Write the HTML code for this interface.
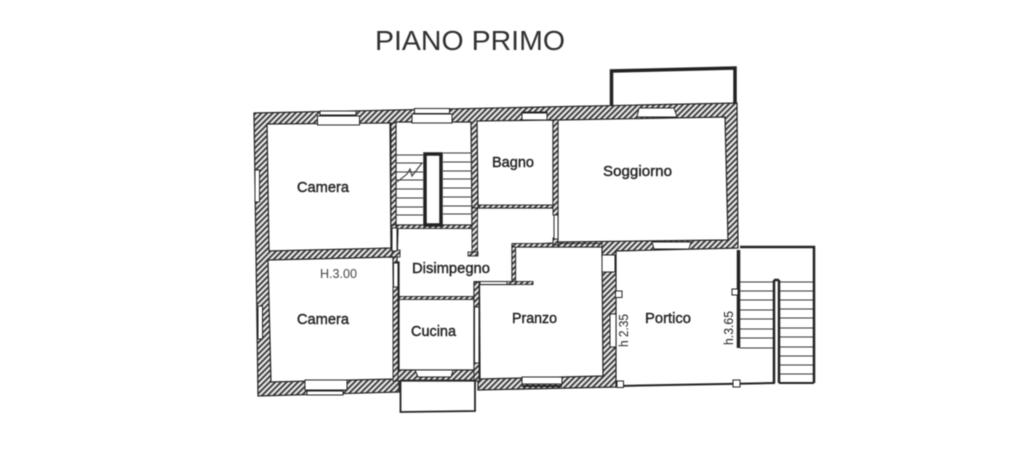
<!DOCTYPE html>
<html>
<head>
<meta charset="utf-8">
<style>
html,body{margin:0;padding:0;background:#fff;width:1014px;height:470px;overflow:hidden}
svg{display:block;filter:blur(0.4px)}
text{font-family:"Liberation Sans",sans-serif;fill:#222}
.l{font-size:14.5px;stroke:#222;stroke-width:.4px}
.t{stroke:#333;stroke-width:1;fill:none}
.k{stroke:#222;fill:none}
.w{fill:#fff;stroke:#222;stroke-width:1}
</style>
</head>
<body>
<svg width="1014" height="470" viewBox="0 0 1014 470" xmlns="http://www.w3.org/2000/svg">
<defs>
<pattern id="h" width="4" height="4" patternUnits="userSpaceOnUse" patternTransform="rotate(45)">
<rect width="4" height="4" fill="#ececec"/>
<rect width="1.800" height="4" fill="#333"/>
</pattern>
</defs>
<rect width="1014" height="470" fill="#fff"/>

<text x="375" y="50" font-size="27.500" textLength="190" lengthAdjust="spacingAndGlyphs" style="fill:#303030">PIANO PRIMO</text>

<!-- balcony top -->
<path d="M611.500 105V71L735 68V103" class="k" stroke-width="3.500"/>

<!-- wall mass -->
<path d="M254 113L737 103L738 248L616 251V387L478 390V381H399V392L258 396Z" fill="url(#h)" stroke="#222" stroke-width="1.200"/>

<!-- rooms -->
<g fill="#fff" stroke="#222" stroke-width="1.200">
<path d="M267 124L390 123L391 248L269 251Z"/>
<path d="M268 260L393 257L394 379L271 382Z"/>
<path d="M396 122H471L472 225H396Z"/>
<path d="M477 121L553 120V205L478 206Z"/>
<path d="M558 120L725 117L728 240L558 242Z"/>
<path d="M398 228H472V208H555V243L512 245V282H474V297H399V262H397Z"/>
<path d="M399 299H474V370H399Z"/>
<path d="M479.500 284.500H515.500V247H602L603 376L480 379Z"/>
</g>

<!-- interior thin walls drawn over rooms -->
<g fill="url(#h)" stroke="#222" stroke-width=".9">
<rect x="472" y="208" width="5.500" height="47"/>
<rect x="468" y="252" width="10" height="4"/>
<rect x="512" y="245" width="3.500" height="37"/>
<rect x="512" y="243.500" width="90" height="3.500"/>
<rect x="474" y="281.500" width="59" height="3"/>
<rect x="474" y="282" width="5" height="25"/>
<rect x="474" y="363" width="5" height="18"/>
<rect x="396" y="225" width="76" height="3.500"/>
<rect x="478" y="205" width="76" height="3"/>
<rect x="399" y="296.500" width="75" height="3"/>
<rect x="553" y="120" width="5" height="95"/>
<rect x="393" y="287" width="5" height="94"/>
<rect x="392" y="250" width="8" height="7"/>
<rect x="391" y="123" width="5" height="102"/>
<rect x="553" y="238" width="5" height="7"/>
</g>
<g class="w">
<rect x="392" y="228" width="5" height="23"/>
<rect x="393.500" y="263" width="4.500" height="24"/>
<rect x="474.500" y="307" width="4.500" height="56"/>
<rect x="554" y="215" width="4" height="24"/>
<rect x="480" y="281.500" width="27" height="3"/>
</g>

<!-- windows -->
<g class="w">
<rect x="317.500" y="116" width="42" height="9"/>
<rect x="320" y="111" width="36" height="4"/>
<rect x="412" y="114" width="40" height="9"/>
<rect x="414.500" y="108.500" width="35" height="5"/>
<rect x="522" y="112" width="25" height="8"/>
<path d="M637 117L639 108H674L677 117Z"/>
<path d="M652 242L654 249H689L691 242Z"/>
<rect x="255" y="170" width="4.500" height="32"/>
<rect x="258" y="306" width="4.500" height="33"/>
<rect x="305" y="380" width="42" height="10"/>
<rect x="307" y="391" width="36" height="4"/>
<path d="M415 370H453L451 377H418Z"/>
<rect x="522" y="377" width="40" height="7"/>
<rect x="602" y="255" width="13" height="17"/>
<rect x="610" y="314" width="6" height="33"/>
</g>
<path d="M522 386H562" class="k" stroke-width="2"/>
<path d="M522 112.500H547" class="k" stroke-width="2"/>

<!-- Cucina balcony -->
<path d="M400.500 381V412L475 411V381" class="k" stroke-width="1.800"/>
<path d="M400 380H475" class="t" stroke-width=".8"/>

<!-- interior stair -->
<g class="t">
<path d="M396 155H423M396 163H423M396 172H423M396 180H423M396 189H423M396 198H423M396 207H423M396 215H423"/>
<path d="M443 153H472M443 162H472M443 171H472M443 179H472M443 188H472M443 197H472M443 206H472M443 214H472"/>
<path d="M397 182L407 174L410 169L412 176L422 163" stroke-width="1.100"/>
</g>
<rect x="425" y="154" width="16" height="71" fill="#fff" stroke="#222" stroke-width="3.500"/>

<!-- portico and external stair -->
<path d="M738.500 250V348" class="k" stroke-width="3.500"/>
<path d="M740 247H814V383" class="k" stroke-width="2.500"/>
<path d="M775 383L616 386" class="k" stroke-width="2"/>
<path d="M774 280V383M779 280V383M774 280H779" class="k" stroke-width="2.500"/>
<path d="M779 383H814" class="k" stroke-width="2"/>
<g class="t">
<path d="M740 282H773M740 291H773M740 300H773M740 310H773M740 319H773M740 329H773M740 338H773M740 348H773"/>
<path d="M780 282H813M780 291H813M780 300H813M780 309H813M780 318H813M780 328H813M780 337H813M780 347H813M780 356H813M780 365H813M780 374H813"/>
</g>
<g fill="#fff" stroke="#222" stroke-width="1">
<rect x="732" y="289" width="6" height="6"/>
<rect x="733" y="380" width="7" height="7"/>
<rect x="615.500" y="291" width="6.500" height="6.500"/>
<rect x="617" y="381" width="6.500" height="6.500"/>
</g>

<!-- labels -->
<text x="297" y="192" class="l" textLength="52" lengthAdjust="spacingAndGlyphs">Camera</text>
<text x="297" y="324" class="l" textLength="52" lengthAdjust="spacingAndGlyphs">Camera</text>
<text x="320" y="278" font-size="13" textLength="37" lengthAdjust="spacingAndGlyphs" style="fill:#444">H.3.00</text>
<text x="412" y="273" class="l" textLength="78" lengthAdjust="spacingAndGlyphs">Disimpegno</text>
<text x="411" y="336" class="l" textLength="45" lengthAdjust="spacingAndGlyphs">Cucina</text>
<text x="492" y="167" class="l" textLength="42" lengthAdjust="spacingAndGlyphs">Bagno</text>
<text x="603" y="176" class="l" textLength="69" lengthAdjust="spacingAndGlyphs">Soggiorno</text>
<text x="512" y="323" class="l" textLength="45" lengthAdjust="spacingAndGlyphs">Pranzo</text>
<text x="645" y="323" class="l" textLength="46" lengthAdjust="spacingAndGlyphs">Portico</text>
<text transform="translate(628,347) rotate(-90)" font-size="13" textLength="33" lengthAdjust="spacingAndGlyphs">h 2.35</text>
<text transform="translate(733,345) rotate(-90)" font-size="13" textLength="34" lengthAdjust="spacingAndGlyphs">h.3.65</text>
</svg>
</body>
</html>
